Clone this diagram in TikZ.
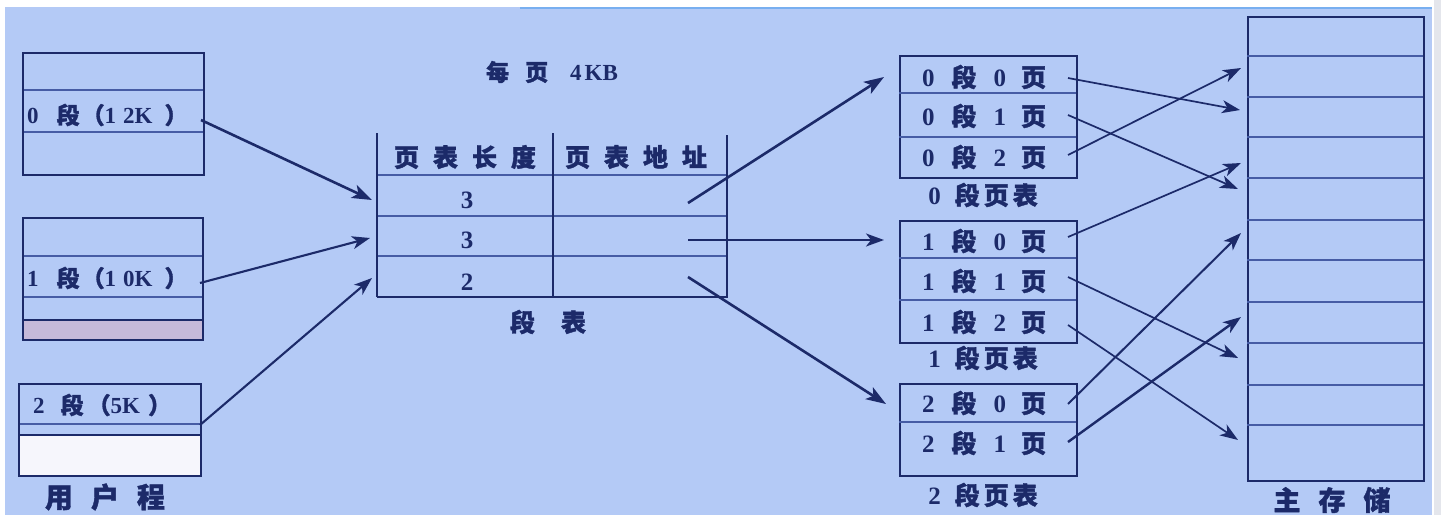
\documentclass[tikz,border=0pt]{standalone}
\usepackage{fontspec}
\setmainfont{Liberation Serif}
\newfontfamily\cjk{Noto Sans CJK SC}[FakeBold=1.4]
\usetikzlibrary{arrows.meta}
\definecolor{bgblue}{RGB}{180,202,246}
\definecolor{topblue}{RGB}{120,175,240}
\definecolor{navy}{RGB}{28,42,105}
\definecolor{thinc}{RGB}{70,92,165}
\definecolor{pinkish}{RGB}{198,186,218}
\definecolor{whitish}{RGB}{246,246,252}
\definecolor{edgegrey}{RGB}{228,230,236}
\newcommand\gp[1]{\hspace{#1pt}}
\begin{document}
\begin{tikzpicture}[x=1pt,y=-1pt,
  boxc/.style={draw=navy, line width=2.4pt},
  thinl/.style={draw=thinc, line width=1.1pt},
  thickl/.style={draw=navy, line width=2.4pt},
  lab/.style={text=navy, inner sep=0pt, font=\fontsize{23}{23}\selectfont\bfseries},
  biglab/.style={text=navy, inner sep=0pt, font=\fontsize{25}{25}\selectfont\bfseries},
  botlab/.style={text=navy, inner sep=0pt, font=\fontsize{28}{28}\selectfont\bfseries},
  arr/.style={draw=navy, line width=1.7pt, -{Stealth[length=18pt,width=13pt,inset=5pt]}},
  barr/.style={draw=navy, line width=2.6pt, -{Stealth[length=20pt,width=14pt,inset=5pt]}}
]
\useasboundingbox (0,0) rectangle (1441,515);
% background
\fill[white] (0,0) rectangle (1441,515);
\fill[bgblue] (5,7) rectangle (1432,515);
\fill[topblue] (520,7) rectangle (1432,9);
\fill[edgegrey] (1434,0) rectangle (1441,515);

% ---------- user program (left) ----------
\fill[pinkish] (22,320) rectangle (202,339);
\fill[whitish] (18,435) rectangle (200,475);
\draw[thinl] (22,90) -- (203,90);
\draw[thinl] (22,132) -- (203,132);
\draw[thinl] (22,256) -- (202,256);
\draw[thinl] (22,297) -- (202,297);
\draw[thickl] (22,320) -- (202,320);
\draw[thinl] (18,424) -- (200,424);
\draw[thickl] (18,435) -- (200,435);
\node[boxc, anchor=north west, minimum width=181, minimum height=122, inner sep=0pt] (b0) at (22,52) {};
\node[boxc, anchor=north west, minimum width=180, minimum height=122, inner sep=0pt] (b1) at (22,217) {};
\node[boxc, anchor=north west, minimum width=182, minimum height=92, inner sep=0pt] (b2) at (18,383) {};
\node[lab, anchor=west] (l0) at (27,115) {0\gp{18}{\cjk 段}\gp{2}{\cjk （}1\gp{7}2K\gp{12}{\cjk ）}};
\node[lab, anchor=west] (l1) at (27,278) {1\gp{18}{\cjk 段}\gp{2}{\cjk （}1\gp{7}0K\gp{12}{\cjk ）}};
\node[lab, anchor=west] (l2) at (33,405) {2\gp{16}{\cjk 段}\gp{4}{\cjk （}5K\gp{8}{\cjk ）}};
\node[botlab] (up) at (105,497) {\cjk 用\gp{18}户\gp{18}程};
\coordinate (s0) at (201,120);
\coordinate (s1) at (200,283);
\coordinate (s2) at (200,425);

% ---------- segment table ----------
\draw[thinl] (377,175) -- (727,175);
\draw[thinl] (377,216) -- (727,216);
\draw[thinl] (377,256) -- (727,256);
\draw[thickl] (377,297) -- (727,297);
\draw[thickl] (377,133) -- (377,297);
\draw[thickl] (553,133) -- (553,297);
\draw[thickl] (727,135) -- (727,298);
\node[biglab] (h1) at (465,157) {\cjk 页\gp{14}表\gp{14}长\gp{14}度};
\node[biglab] (h2) at (636,157) {\cjk 页\gp{14}表\gp{14}地\gp{14}址};
\node[biglab] (n0) at (467,200) {3};
\node[biglab] (n1) at (467,240) {3};
\node[biglab] (n2) at (467,282) {2};
\node[lab] (pg) at (552,72) {{\cjk 每\gp{16}页}\gp{22}4\gp{3}KB};
\node[biglab] (st) at (548,322) {\cjk 段\gp{26}表};
\coordinate (e0) at (372,200);
\coordinate (e1) at (370,238);
\coordinate (e2) at (372,278);
\coordinate (a0) at (688,203);
\coordinate (a1) at (688,240);
\coordinate (a2) at (688,277);

\draw[barr] (s0) -- (e0);
\draw[arr, line width=2.1pt] (s1) -- (e1);
\draw[arr, line width=2.1pt] (s2) -- (e2);

% ---------- page tables ----------
\node[boxc, anchor=north west, minimum width=177, minimum height=122, inner sep=0pt] (p0) at (899,55) {};
\node[boxc, anchor=north west, minimum width=177, minimum height=122, inner sep=0pt] (p1) at (899,220) {};
\node[boxc, anchor=north west, minimum width=177, minimum height=92, inner sep=0pt] (p2) at (899,383) {};
\draw[thinl] (899,93) -- (1076,93);
\draw[thinl] (899,137) -- (1076,137);
\draw[thinl] (899,258) -- (1076,258);
\draw[thinl] (899,300) -- (1076,300);
\draw[thinl] (899,422) -- (1076,422);
\foreach \s/\p/\yy/\nm in {0/0/77/r00,0/1/116/r01,0/2/157/r02,1/0/241/r10,1/1/281/r11,1/2/322/r12,2/0/403/r20,2/1/443/r21}{
  \node[biglab] (\nm) at (984,\yy) {\s\gp{17}{\cjk 段}\gp{17}\p\gp{15}{\cjk 页}};
}
\node[biglab] (t0) at (983,195) {0\gp{14}{\cjk 段\gp{4}页\gp{4}表}};
\node[biglab] (t1) at (983,358) {1\gp{14}{\cjk 段\gp{4}页\gp{4}表}};
\node[biglab] (t2) at (983,495) {2\gp{14}{\cjk 段\gp{4}页\gp{4}表}};
\coordinate (q0) at (884,77);
\coordinate (q1) at (884,240);
\coordinate (q2) at (886,404);
\draw[barr] (a0) -- (q0);
\draw[arr, line width=2pt] (a1) -- (q1);
\draw[barr] (a2) -- (q2);

% ---------- main memory ----------
\node[boxc, anchor=north west, minimum width=176, minimum height=464, inner sep=0pt] (mem) at (1247,16) {};
\foreach \yy in {56,97,137,178,220,260,302,343,385,425}{
  \draw[thinl] (1247,\yy) -- (1423,\yy);
}
\node[botlab, font=\fontsize{27}{27}\selectfont\bfseries] (mm) at (1332,500) {\cjk 主\gp{18}存\gp{18}储};

\coordinate (f00) at (1068,78);
\coordinate (f01) at (1068,115);
\coordinate (f02) at (1068,155);
\coordinate (f10) at (1068,237);
\coordinate (f11) at (1068,277);
\coordinate (f12) at (1068,325);
\coordinate (f20) at (1068,404);
\coordinate (f21) at (1068,442);
\coordinate (m00) at (1240,110);
\coordinate (m01) at (1238,189);
\coordinate (m02) at (1241,68);
\coordinate (m10) at (1241,163);
\coordinate (m11) at (1238,358);
\coordinate (m12) at (1238,440);
\coordinate (m20) at (1241,233);
\coordinate (m21) at (1241,317);
\draw[arr] (f00) -- (m00);
\draw[arr] (f01) -- (m01);
\draw[arr] (f02) -- (m02);
\draw[arr] (f10) -- (m10);
\draw[arr] (f11) -- (m11);
\draw[arr] (f12) -- (m12);
\draw[arr, line width=2pt] (f20) -- (m20);
\draw[arr, line width=2.4pt] (f21) -- (m21);
\end{tikzpicture}
\end{document}
